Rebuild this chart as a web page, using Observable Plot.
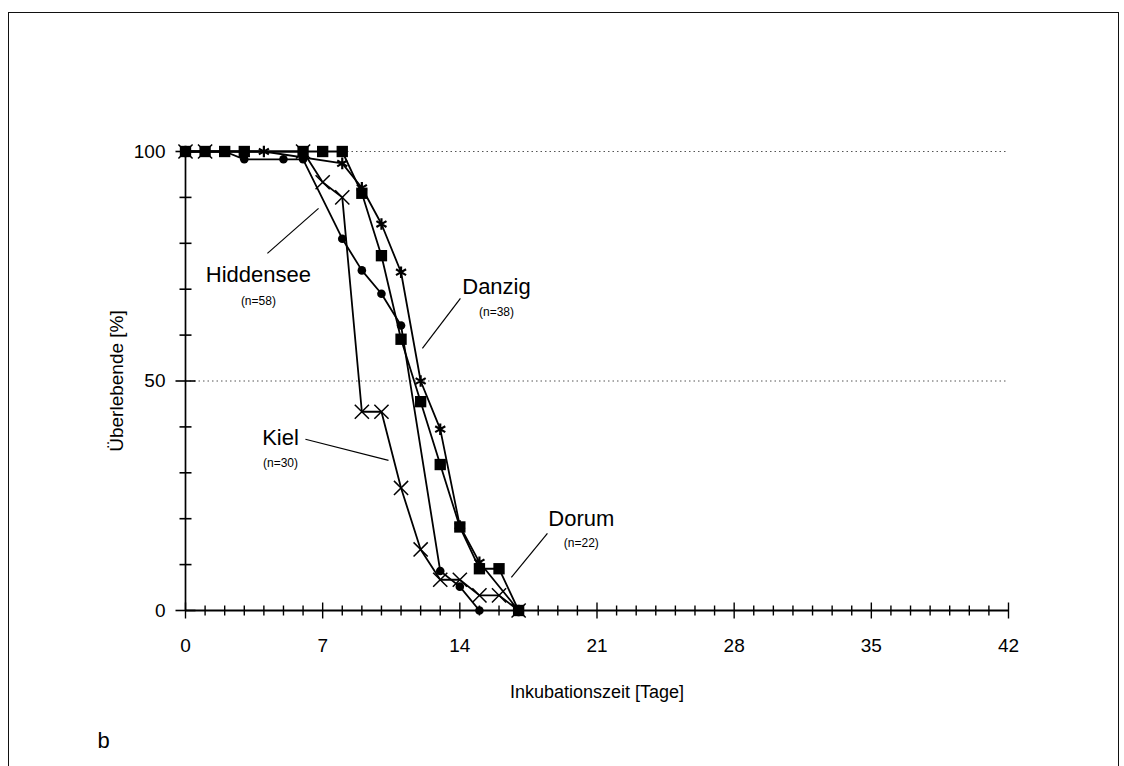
<!DOCTYPE html>
<html><head><meta charset="utf-8">
<script src="https://cdn.jsdelivr.net/npm/d3@7"></script>
<script src="https://cdn.jsdelivr.net/npm/@observablehq/plot@0.6"></script>
<style>
html,body{margin:0;padding:0;background:#fff;overflow:hidden;width:1124px;height:766px;}
#chart{position:absolute;left:0;top:0;}
#frame{position:absolute;left:8px;top:12px;width:1111px;height:800px;border:1.6px solid #111;box-sizing:border-box;pointer-events:none;}
</style></head><body>
<div id="chart"></div>
<div id="frame"></div>
<script>
// ---- data (Überlebende [%] per Inkubationstag) ----
const hiddenseeDays = [0,1,2,3,5,6,8,9,10,11,13,14,15];
const hiddenseeVals = [100,100,100,98.3,98.3,98.3,81.0,74.1,69.0,62.1,8.6,5.2,0];
const dorumDays = [0,1,2,3,6,7,8,9,10,11,12,13,14,15,16,17];
const dorumVals = [100,100,100,100,100,100,100,90.9,77.3,59.1,45.5,31.8,18.2,9.1,9.1,0];
const danzigDays = [0,4,8,9,10,11,12,13,14,15,17];
const danzigVals = [100,100,97.4,92.1,84.2,73.7,50.0,39.5,18.4,10.5,0];
const kielDays = [0,1,6,7,8,9,10,11,12,13,14,15,16,17];
const kielVals = [100,100,100,93.3,90.0,43.3,43.3,26.7,13.3,6.7,6.7,3.3,3.3,0];

// labels and annotations (data units)
const labelNames = ["Hiddensee","Danzig","Kiel","Dorum"];
const labelCounts = ["(n=58)","(n=38)","(n=30)","(n=22)"];
const labelX = [3.72, 15.87, 4.85, 20.2];
const labelY = [73.0, 70.4, 37.7, 20.0];
const countY = [67.5, 65.1, 32.0, 14.6];
const leaderFrom = [[4.18,77.8],[14.03,68.0],[6.12,37.3],[18.47,16.8]];
const leaderTo   = [[6.79,87.6],[12.09,57.1],[10.36,32.7],[16.63,7.2]];

const xTickLabels = [0,7,14,21,28,35,42];
const yTickLabels = [0,50,100];
const xMinorTicks = d3.range(0,43,1).filter(d => d % 7 !== 0);
const yMinorTicks = [10,20,30,40,60,70,80,90];
const gridLevels = [50,100];
const xTitle = "Inkubationszeit [Tage]";
const yTitle = "Überlebende [%]";
const panelLetter = "b";

const toRows = (days, vals) => days.map((d,i) => ({day:d, val:vals[i]}));
const series = [
  {rows: toRows(hiddenseeDays, hiddenseeVals), symbol:"circle", r:4.3, fill:"black", stroke:"none", sw:0},
  {rows: toRows(kielDays, kielVals), symbol:"times", r:6.5, fill:"none", stroke:"black", sw:1.5},
  {rows: toRows(danzigDays, danzigVals), symbol:"asterisk", r:5.5, fill:"none", stroke:"black", sw:2.2},
  {rows: toRows(dorumDays, dorumVals), symbol:"square", r:6.4, fill:"black", stroke:"none", sw:0}
];

const vLine = {draw(c, s){ const h = Math.sqrt(s/Math.PI); c.moveTo(0,-h); c.lineTo(0,h); }};
const hLine = {draw(c, s){ const h = Math.sqrt(s/Math.PI); c.moveTo(-h,0); c.lineTo(h,0); }};

const font = "Liberation Sans, Arial, Helvetica, sans-serif";

const marks = [
  Plot.ruleY(gridLevels, {stroke:"#555", strokeWidth:1, strokeDasharray:"1.5,3"}),
  Plot.ruleX([0], {y1:0, y2:100, stroke:"black", strokeWidth:1.7}),
  Plot.ruleY([0], {x1:0, x2:42, stroke:"black", strokeWidth:2.2}),
  Plot.dot(xMinorTicks, {x:d=>d, y:0, symbol:vLine, r:5, fill:"none", stroke:"black", strokeWidth:1.4}),
  Plot.dot(xTickLabels, {x:d=>d, y:0, symbol:vLine, r:8, fill:"none", stroke:"black", strokeWidth:1.4}),
  Plot.dot(yMinorTicks, {x:0, y:d=>d, symbol:hLine, r:6, fill:"none", stroke:"black", strokeWidth:1.6}),
  Plot.dot(yTickLabels, {x:0, y:d=>d, symbol:hLine, r:10, fill:"none", stroke:"black", strokeWidth:1.6}),
];
for (const s of series) {
  marks.push(Plot.line(s.rows, {x:"day", y:"val", stroke:"black", strokeWidth:1.8}));
}
for (const s of series) {
  marks.push(Plot.dot(s.rows, {x:"day", y:"val", symbol:s.symbol, r:s.r, fill:s.fill, stroke:s.stroke, strokeWidth:s.sw}));
}
const labels = labelNames.map((n,i) => ({name:n, count:labelCounts[i], x:labelX[i], y:labelY[i], cy:countY[i],
  x1:leaderFrom[i][0], y1:leaderFrom[i][1], x2:leaderTo[i][0], y2:leaderTo[i][1]}));
marks.push(
  Plot.link(labels, {x1:"x1", y1:"y1", x2:"x2", y2:"y2", stroke:"black", strokeWidth:1.2}),
  Plot.text(labels, {x:"x", y:"y", text:"name", fontSize:22, fontFamily:font, fill:"black"}),
  Plot.text(labels, {x:"x", y:"cy", text:"count", fontSize:12, fontFamily:font, fill:"black"}),
  Plot.text(xTickLabels, {x:d=>d, y:0, text:d=>String(d), dy:35, fontSize:19, fontFamily:font, fill:"black"}),
  Plot.text(yTickLabels, {x:0, y:d=>d, text:d=>String(d), dx:-20, textAnchor:"end", fontSize:19, fontFamily:font, fill:"black"}),
  Plot.text([xTitle], {frameAnchor:"bottom", dy:87, fontSize:18, fontFamily:font, fill:"black"}),
  Plot.text([yTitle], {frameAnchor:"left", dx:-69, rotate:-90, textAnchor:"middle", fontSize:19, fontFamily:font, fill:"black"}),
  Plot.text([panelLetter], {frameAnchor:"bottom-left", dx:-88, dy:137, fontSize:22, fontFamily:font, fill:"black"})
);

const chart = Plot.plot({
  width:1124, height:766,
  marginLeft:185, marginRight:116, marginTop:151, marginBottom:156,
  x:{domain:[0,42], axis:null},
  y:{domain:[0,100], axis:null},
  style:{background:"none", fontFamily:font, overflow:"visible"},
  marks
});
document.getElementById("chart").appendChild(chart);
</script>
</body></html>
